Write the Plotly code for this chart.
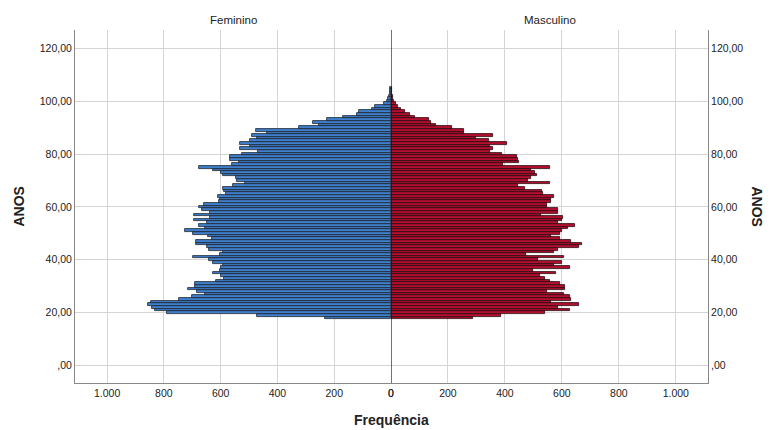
import plotly.graph_objects as go

ages = list(range(18, 106))

feminino = [234, 471, 790, 831, 842, 857, 845, 748, 700, 655,
            682, 715, 690, 692, 617, 588, 600, 626, 602, 600,
            590, 626, 642, 699, 603, 590, 641, 647, 688, 688,
            629, 643, 699, 725, 655, 676, 647, 694, 637, 694,
            637, 667, 676, 658, 606, 602, 609, 582, 588, 590,
            555, 516, 541, 547, 590, 600, 627, 676, 561, 536,
            567, 568, 524, 468, 533, 495, 533, 498, 471, 491,
            436, 477, 323, 252, 275, 226, 170, 120, 112, 68,
            56, 25, 13, 9, 6, 4, 3, 2]

masculino = [288, 387, 539, 627, 586, 659, 563, 633, 627, 607,
             546, 612, 612, 595, 559, 539, 522, 578, 498, 627,
             572, 600, 516, 606, 475, 571, 588, 660, 670, 633,
             592, 563, 595, 600, 621, 647, 588, 600, 603, 525,
             588, 586, 547, 547, 560, 563, 571, 533, 531, 469,
             446, 557, 481, 492, 513, 504, 490, 557, 393, 451,
             446, 443, 391, 346, 358, 346, 408, 344, 297, 358,
             258, 258, 215, 157, 141, 132, 83, 66, 48, 36,
             25, 19, 11, 8, 6, 4, 3, 2]

x_ticks = [0, 200, 400, 600, 800, 1000]
x_tick_text = ["0", "200", "400", "600", "800", "1.000"]
y_ticks = [0, 20, 40, 60, 80, 100, 120]
y_tick_text = [",00", "20,00", "40,00", "60,00", "80,00", "100,00", "120,00"]

FONT = "Liberation Sans"
GRID = "#d4d4d4"
AXIS = "#888888"

fig = go.Figure()
fig.add_trace(go.Bar(y=ages, x=feminino, orientation="h", width=1,
                     marker=dict(color="#3f7fcc", line=dict(color="#1c2430", width=0.8)),
                     xaxis="x", yaxis="y", showlegend=False, name="Feminino"))
fig.add_trace(go.Bar(y=ages, x=masculino, orientation="h", width=1,
                     marker=dict(color="#b3102f", line=dict(color="#2a0a10", width=0.8)),
                     xaxis="x2", yaxis="y2", showlegend=False, name="Masculino"))

split = 316 / 633
xr = 1113
yr = [-6.6, 126.9]

# page body has an 8px margin, so the figure is sized to fit the 773x430 window
fig.update_layout(
    width=765, height=422,
    margin=dict(l=67, r=65, t=22, b=47),
    paper_bgcolor="white", plot_bgcolor="white",
    bargap=0,
    font=dict(family=FONT, size=11, color="#222222"),
    xaxis=dict(domain=[0, split], range=[xr, 0], tickvals=x_ticks, ticktext=x_tick_text,
               showgrid=True, gridcolor=GRID, gridwidth=1, zeroline=False,
               showline=True, linecolor=AXIS, linewidth=1, ticks="", anchor="y",
               tickfont=dict(size=10.5)),
    xaxis2=dict(domain=[split, 1], range=[0, xr], tickvals=x_ticks, ticktext=x_tick_text,
                showgrid=True, gridcolor=GRID, gridwidth=1, zeroline=False,
                showline=True, linecolor=AXIS, linewidth=1, ticks="", anchor="y2",
                tickfont=dict(size=10.5)),
    yaxis=dict(range=yr, tickvals=y_ticks, ticktext=y_tick_text, anchor="x",
               showgrid=True, gridcolor=GRID, gridwidth=1, zeroline=False,
               showline=True, linecolor=AXIS, linewidth=1, ticks="", side="left",
               tickfont=dict(size=10.5)),
    yaxis2=dict(range=yr, tickvals=y_ticks, ticktext=y_tick_text, anchor="x2",
                showgrid=True, gridcolor=GRID, gridwidth=1, zeroline=False,
                showline=True, linecolor=AXIS, linewidth=1, ticks="", side="right",
                matches="y", tickfont=dict(size=10.5)),
)

fig.add_shape(type="line", xref="x2", yref="paper", x0=0, x1=0, y0=0, y1=1,
              line=dict(color="#111111", width=1.2))

head_y = 1 + 10 / 353
fig.add_annotation(text="Feminino", xref="paper", yref="paper", x=split / 2, y=head_y,
                   showarrow=False, xanchor="center", yanchor="middle", font=dict(size=11.5))
fig.add_annotation(text="Masculino", xref="paper", yref="paper", x=split + (1 - split) / 2, y=head_y,
                   showarrow=False, xanchor="center", yanchor="middle", font=dict(size=11.5))
fig.add_annotation(text="<b>Frequência</b>", xref="paper", yref="paper", x=split, y=-0.105,
                   showarrow=False, xanchor="center", yanchor="middle", font=dict(size=14))
fig.add_annotation(text="<b>ANOS</b>", xref="paper", yref="paper", x=(18 - 75) / 633, y=0.5,
                   showarrow=False, textangle=-90, xanchor="center", yanchor="middle",
                   font=dict(size=14))
fig.add_annotation(text="<b>ANOS</b>", xref="paper", yref="paper", x=(757 - 75) / 633, y=0.5,
                   showarrow=False, textangle=90, xanchor="center", yanchor="middle",
                   font=dict(size=14))

fig.write_html("out.html")
